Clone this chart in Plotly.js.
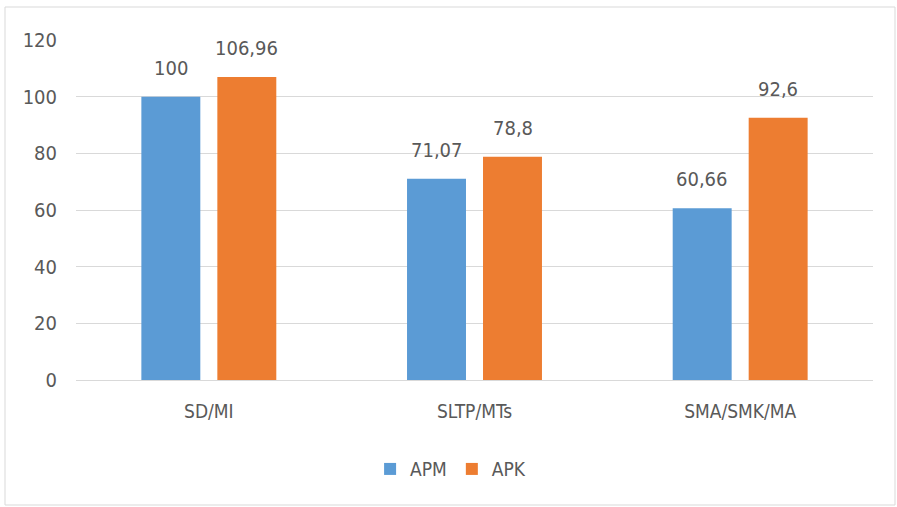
<!DOCTYPE html>
<html>
<head>
<meta charset="utf-8">
<script src="https://cdn.plot.ly/plotly-3.0.1.min.js"></script>
<style>html,body{margin:0;padding:0;background:#fff}#chart{width:897px;height:507px}</style>
</head>
<body>
<div id="chart"></div>
<script>
const categories = ["SD/MI", "SLTP/MTs", "SMA/SMK/MA"];
const apm = [100, 71.07, 60.66];
const apk = [106.96, 78.8, 92.6];
const seriesNames = ["APM", "APK"];
const yTicks = [0, 20, 40, 60, 80, 100, 120];

const FONT = "Liberation Sans Narrow, DejaVu Sans Condensed, Arial Narrow, sans-serif";
const TXT = "#595959";
const fmt = v => String(v).replace(".", ",");

const traces = [
  {type: "bar", name: seriesNames[0], x: categories, y: apm, marker: {color: "#5B9BD5"}, hoverinfo: "none"},
  {type: "bar", name: seriesNames[1], x: categories, y: apk, marker: {color: "#ED7D31"}, hoverinfo: "none"}
];

const annotations = [];
[apm, apk].forEach((arr, si) => {
  arr.forEach((v, i) => {
    annotations.push({
      x: categories[i], y: v, xref: "x", yref: "y",
      text: fmt(v), showarrow: false, yanchor: "bottom",
      xshift: si === 0 ? -38 : 38, yshift: 15,
      font: {family: FONT, size: 20, color: TXT}
    });
  });
});

const layout = {
  width: 897, height: 507,
  margin: {l: 76, r: 24, t: 40, b: 127},
  paper_bgcolor: "#ffffff", plot_bgcolor: "#ffffff",
  barmode: "group", bargap: 0.428, bargroupgap: 0.224,
  showlegend: true,
  legend: {orientation: "h", x: 0.47, xanchor: "center", y: -0.262, yanchor: "middle",
           font: {family: FONT, size: 19, color: TXT}, itemwidth: 30, traceorder: "normal"},
  xaxis: {type: "category", showgrid: false, zeroline: false, showline: true, linecolor: "#d9d9d9", linewidth: 1,
          ticks: "", tickfont: {family: FONT, size: 19, color: TXT}, ticklabelstandoff: 14, fixedrange: true},
  yaxis: {range: [0, 120], tickvals: yTicks, ticktext: yTicks.map(String), showgrid: true, gridcolor: "#d9d9d9", gridwidth: 1,
          zeroline: false, showline: false, ticks: "", tickfont: {family: FONT, size: 20, color: TXT},
          ticklabelstandoff: 18, fixedrange: true},
  annotations: annotations,
  shapes: [{type: "rect", xref: "paper", yref: "paper",
            x0: (5 - 76) / 797, x1: (895 - 76) / 797, y0: (380 - 505) / 340, y1: (380 - 7) / 340,
            line: {color: "#d9d9d9", width: 1}, fillcolor: "rgba(0,0,0,0)", layer: "below"}]
};

Plotly.newPlot("chart", traces, layout, {displayModeBar: false, staticPlot: true});
</script>
</body>
</html>
